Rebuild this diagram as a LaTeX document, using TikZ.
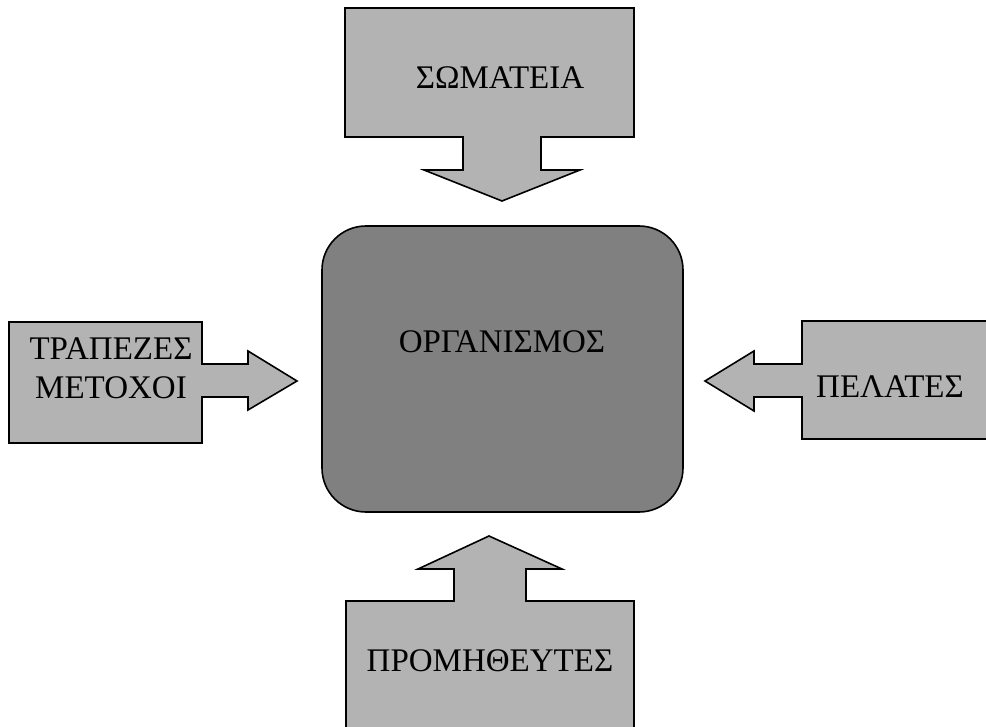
\documentclass[tikz,border=0pt]{standalone}
\usepackage{fontspec}
\setmainfont{Liberation Serif}
\begin{document}
\begin{tikzpicture}[x=1pt,y=-1pt,
  callout/.style={draw=black, line width=1.6pt, fill=calloutgray, line join=miter},
  core/.style={draw=black, line width=1.6pt, fill=coregray, rounded corners=44pt},
  lbl/.style={font=\fontsize{33}{39}\selectfont, align=center, inner sep=0pt, text=black}]
  \definecolor{calloutgray}{HTML}{B3B3B3}
  \definecolor{coregray}{HTML}{808080}
  \useasboundingbox (0,0) rectangle (986,727);
  \clip (0,0) rectangle (986,727);

  % central organisation
  \draw[core] (322,226) rectangle (683,512);
  \node[lbl] (organismos) at (502,342) {ΟΡΓΑΝΙΣΜΟΣ};

  % top callout, pointing down
  \draw[callout] (345,8) -- (634,8) -- (634,137) -- (541,137) -- (541,170)
    -- (580,170) -- (502,201) -- (424,170) -- (463,170) -- (463,137)
    -- (345,137) -- cycle;
  \node[lbl] (somateia) at (500,78) {ΣΩΜΑΤΕΙΑ};

  % left callout, pointing right
  \draw[callout] (9,322) -- (202,322) -- (202,364) -- (248,364) -- (248,351)
    -- (297,381) -- (248,410) -- (248,397) -- (202,397) -- (202,443)
    -- (9,443) -- cycle;
  \node[lbl] (trapezes) at (111,368) {ΤΡΑΠΕΖΕΣ\\ΜΕΤΟΧΟΙ};

  % right callout, pointing left
  \draw[callout] (1000,321) -- (802,321) -- (802,364) -- (754,364) -- (754,351)
    -- (705,381) -- (754,411) -- (754,397) -- (802,397) -- (802,439)
    -- (1000,439) -- cycle;
  \node[lbl] (pelates) at (890,387) {ΠΕΛΑΤΕΣ};

  % bottom callout, pointing up
  \draw[callout] (346,740) -- (346,601) -- (454,601) -- (454,569) -- (418,569)
    -- (489,536) -- (562,569) -- (526,569) -- (526,601) -- (634,601)
    -- (634,740) -- cycle;
  \node[lbl] (promitheftes) at (490,661) {ΠΡΟΜΗΘΕΥΤΕΣ};
\end{tikzpicture}
\end{document}
